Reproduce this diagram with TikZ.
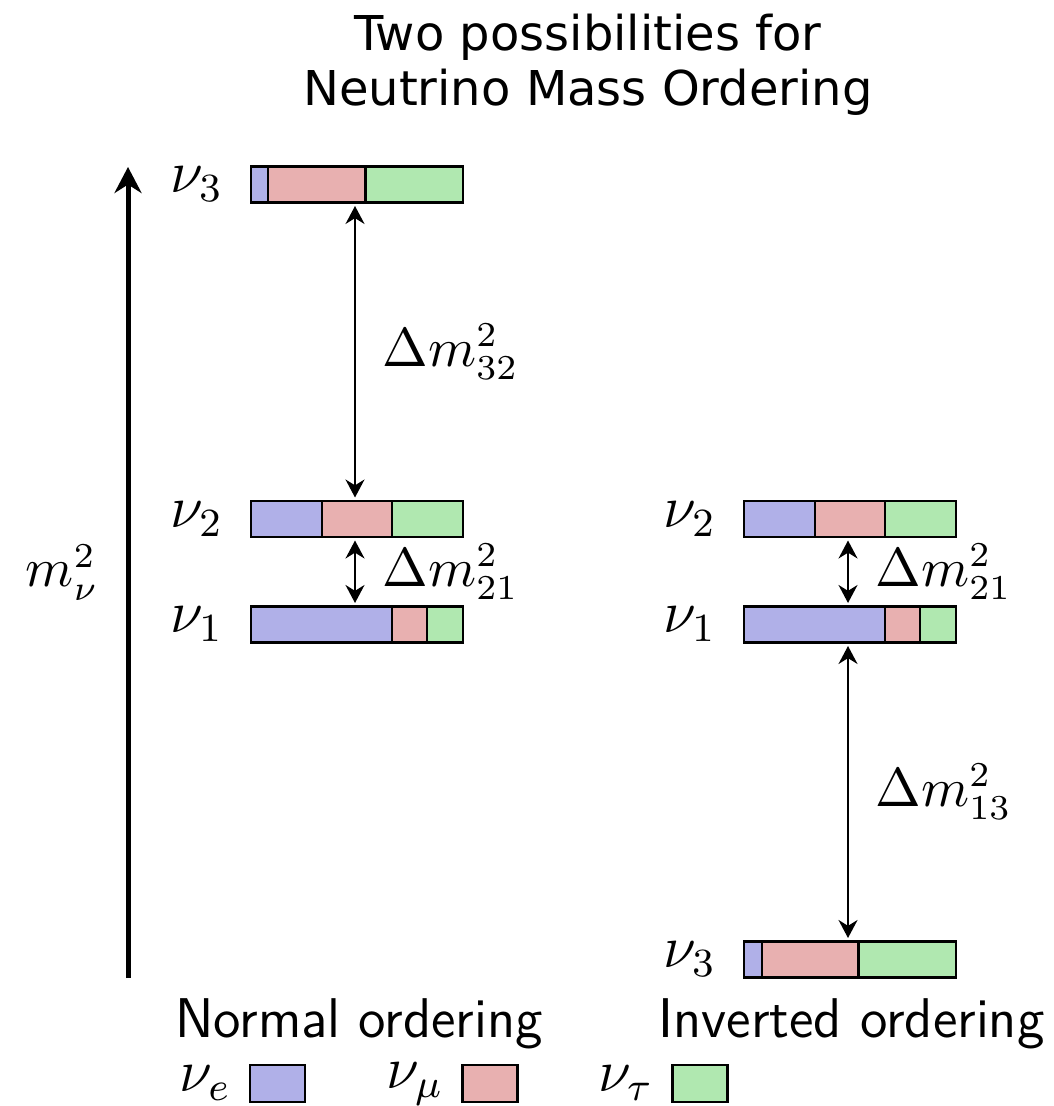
\documentclass[tikz,border=0pt]{standalone}
\usepackage{fontspec}
\newfontfamily\titlefont{DejaVu Sans}
\usetikzlibrary{arrows.meta, positioning, calc}
\definecolor{cnue}{HTML}{B0B0E8}
\definecolor{cnumu}{HTML}{E8B0B0}
\definecolor{cnutau}{HTML}{B0E8B0}
\tikzset{
  every picture/.style={line width=0.5pt},
  level/.style={minimum width=42.4pt, minimum height=7.2pt, inner sep=0pt, outer sep=0pt},
  seg/.style={draw=black, fill=#1, line width=0.5pt},
  split/.style={{Stealth[length=3.6pt, width=3.8pt]}-{Stealth[length=3.6pt, width=3.8pt]}, line width=0.4pt, shorten >=0.7pt, shorten <=0.7pt},
  axis/.style={-{Stealth[length=5.2pt, width=5.4pt]}, line width=1pt},
  lvlabel/.style={font=\large},
  gaplabel/.style={font=\fontsize{10.5}{12}\selectfont},
  title/.style={font=\titlefont\fontsize{9.6}{11}\selectfont, align=center, inner sep=0pt},
  ordering/.style={font=\sffamily\fontsize{11.2}{13}\selectfont},
  swatch/.style={draw, fill=#1, minimum width=11pt, minimum height=7.4pt, inner sep=0pt},
}
\newcommand{\flavlevel}[4]{%
  \node[level] (#1) at (#2) {};
  \draw[seg=cnue] (#1.south west) rectangle ($(#1.north west)!#3!(#1.north east)$);
  \draw[seg=cnumu] ($(#1.south west)!#3!(#1.south east)$) rectangle ($(#1.north west)!#4!(#1.north east)$);
  \draw[seg=cnutau] ($(#1.south west)!#4!(#1.south east)$) rectangle (#1.north east);
}

\begin{document}
\begin{tikzpicture}[x=20pt, y=20pt]
  \useasboundingbox (0,0) rectangle (10.53,-11.06);
  \node[title, anchor=north] (title) at (5.88,-0.13) {Two possibilities for\\Neutrino Mass Ordering};

  \coordinate (mbot) at (1.28,-9.78);
  \coordinate (mtop) at (1.28,-1.67);
  \draw[axis] (mbot) -- node[left=2pt, font=\fontsize{10.5}{12}\selectfont] (mlab) {$m^2_\nu$} (mtop);

  \flavlevel{no3}{3.57,-1.845}{0.08}{0.54}
  \flavlevel{no2}{3.57,-5.19}{0.335}{0.665}
  \flavlevel{no1}{3.57,-6.245}{0.665}{0.83}
  \flavlevel{io2}{8.50,-5.19}{0.335}{0.665}
  \flavlevel{io1}{8.50,-6.245}{0.665}{0.83}
  \flavlevel{io3}{8.50,-9.595}{0.085}{0.54}

  \node[lvlabel, left=2pt of no3] (no3lab) {$\nu_3$};
  \node[lvlabel, left=2pt of no2] (no2lab) {$\nu_2$};
  \node[lvlabel, left=2pt of no1] (no1lab) {$\nu_1$};
  \node[lvlabel, left=2pt of io2] (io2lab) {$\nu_2$};
  \node[lvlabel, left=2pt of io1] (io1lab) {$\nu_1$};
  \node[lvlabel, left=2pt of io3] (io3lab) {$\nu_3$};

  \draw[split] ([xshift=-0.4pt]no3.south) -- node[gaplabel, right=2pt] (d32) {$\Delta m^2_{32}$} ([xshift=-0.4pt]no2.north);
  \draw[split] ([xshift=-0.4pt]no2.south) -- node[gaplabel, right=2pt] (d21n) {$\Delta m^2_{21}$} ([xshift=-0.4pt]no1.north);
  \draw[split] ([xshift=-0.4pt]io2.south) -- node[gaplabel, right=2pt] (d21i) {$\Delta m^2_{21}$} ([xshift=-0.4pt]io1.north);
  \draw[split] ([xshift=-0.4pt]io1.south) -- node[gaplabel, right=2pt] (d13) {$\Delta m^2_{13}$} ([xshift=-0.4pt]io3.north);

  \node[ordering, anchor=base] (normal) at (3.59,-10.37) {Normal ordering};
  \node[ordering, anchor=base] (inverted) at (8.515,-10.37) {Inverted ordering};

  \node[swatch=cnue] (ke) at (2.775,-10.835) {};
  \node[swatch=cnumu] (kmu) at (4.90,-10.835) {};
  \node[swatch=cnutau] (ktau) at (7.00,-10.835) {};
  \node[lvlabel, left=0pt of ke] (kelab) {$\nu_e$};
  \node[lvlabel, left=0pt of kmu] (kmulab) {$\nu_\mu$};
  \node[lvlabel, left=0pt of ktau] (ktaulab) {$\nu_\tau$};
\end{tikzpicture}
\end{document}
